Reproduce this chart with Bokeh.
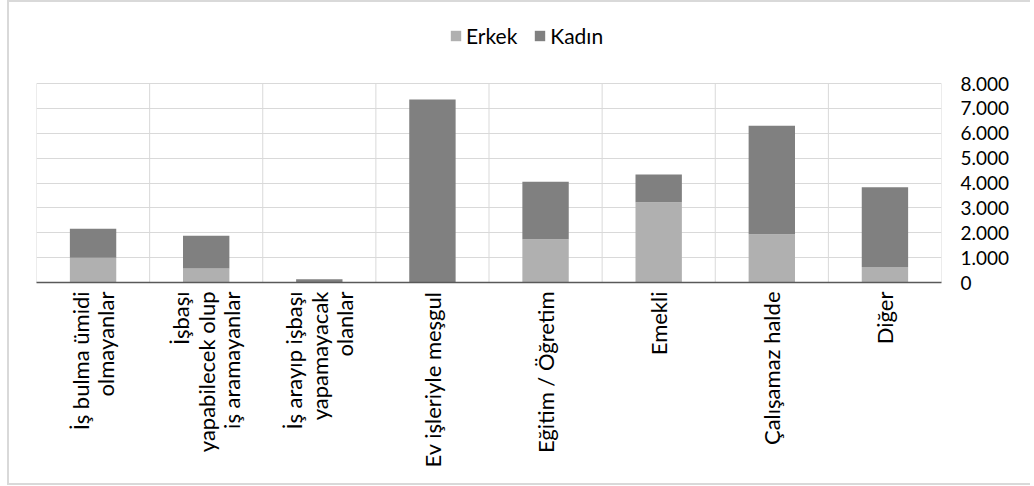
import math
from bokeh.plotting import figure
from bokeh.models import ColumnDataSource, FixedTicker, Legend, LegendItem, Range1d
from bokeh.embed import file_html
from bokeh.resources import INLINE

categories = ["İş bulma ümidi\nolmayanlar",
              "İşbaşı\nyapabilecek olup\niş aramayanlar",
              "İş arayıp işbaşı\nyapamayacak\nolanlar",
              "Ev işleriyle meşgul",
              "Eğitim / Öğretim",
              "Emekli",
              "Çalışamaz halde",
              "Diğer"]
erkek = [990, 560, 20, 0, 1740, 3230, 1940, 620]
kadin = [1170, 1320, 110, 7360, 2310, 1110, 4360, 3210]
y_ticks = [0, 1000, 2000, 3000, 4000, 5000, 6000, 7000, 8000]
y_tick_labels = ["0", "1.000", "2.000", "3.000", "4.000", "5.000", "6.000", "7.000", "8.000"]

FONT = "Lato"
W, H = 1030, 485
FRAME_TOP, FRAME_BOTTOM, FRAME_LEFT, FRAME_RIGHT = 2, 282, 36, 941
PX_PER_8000 = 199.0

n = len(categories)
x = [i + 0.5 for i in range(n)]
total = [e + k for e, k in zip(erkek, kadin)]
src = ColumnDataSource(dict(x=x, erkek=erkek, kadin=kadin, total=total))

y_max = y_ticks[-1]
y_end = y_max * (FRAME_BOTTOM - FRAME_TOP) / PX_PER_8000

p = figure(width=W, height=H, output_backend="svg", toolbar_location=None,
           x_range=Range1d(0, n), y_range=Range1d(0, y_end),
           y_axis_location="right",
           min_border_left=FRAME_LEFT, min_border_right=W - FRAME_RIGHT,
           min_border_top=FRAME_TOP, min_border_bottom=H - FRAME_BOTTOM)
p.outline_line_color = None
p.border_fill_alpha = 0
g = "linear-gradient(#d9d9d9,#d9d9d9)"
p.styles = {"background": f"{g} 7px 0 / 2px 100% no-repeat, "
                          f"{g} 7px 0 / 100% 2px no-repeat, "
                          f"{g} 7px 100% / 100% 2px no-repeat, #ffffff"}

# vertical category separators (stop at top of value scale)
bounds = list(range(n + 1))
p.segment(x0=bounds, y0=[0] * len(bounds), x1=bounds, y1=[y_max] * len(bounds),
          line_color="#d9d9d9", line_width=1)

r1 = p.vbar(x="x", bottom=0, top="erkek", width=0.41, source=src,
            fill_color="#b0b0b0", line_color=None)
r2 = p.vbar(x="x", bottom="erkek", top="total", width=0.41, source=src,
            fill_color="#808080", line_color=None)

# x axis
xa = p.xaxis[0]
xa.ticker = FixedTicker(ticks=x)
xa.major_label_overrides = {xi: c for xi, c in zip(x, categories)}
xa.major_label_orientation = math.pi / 2
xa.major_tick_line_color = None
xa.minor_tick_line_color = None
xa.axis_line_color = "#595959"
xa.axis_line_width = 1.5
xa.major_label_standoff = 3
xa.major_label_text_font = FONT
xa.major_label_text_font_size = "22px"
xa.major_label_text_line_height = 0.95
xa.major_label_text_color = "#000000"

# y axis
ya = p.yaxis[0]
ya.ticker = FixedTicker(ticks=y_ticks)
ya.major_label_overrides = {t: l for t, l in zip(y_ticks, y_tick_labels)}
ya.major_tick_line_color = None
ya.minor_tick_line_color = None
ya.axis_line_color = None
ya.major_label_standoff = 13
ya.major_label_text_font = FONT
ya.major_label_text_font_size = "19px"
ya.major_label_text_color = "#000000"

# grids
p.xgrid[0].grid_line_color = None
p.ygrid[0].ticker = FixedTicker(ticks=y_ticks)
p.ygrid[0].grid_line_color = "#d9d9d9"

legend = Legend(items=[LegendItem(label="Erkek", renderers=[r1]),
                       LegendItem(label="Kadın", renderers=[r2])],
                orientation="horizontal", location=(413, 234),
                glyph_width=13, glyph_height=13, label_standoff=4, spacing=16,
                padding=0, margin=0, border_line_color=None,
                background_fill_alpha=0,
                label_text_font=FONT, label_text_font_size="21px",
                label_text_color="#000000")
p.add_layout(legend, "center")

open("out.html", "w").write(file_html(p, INLINE))
